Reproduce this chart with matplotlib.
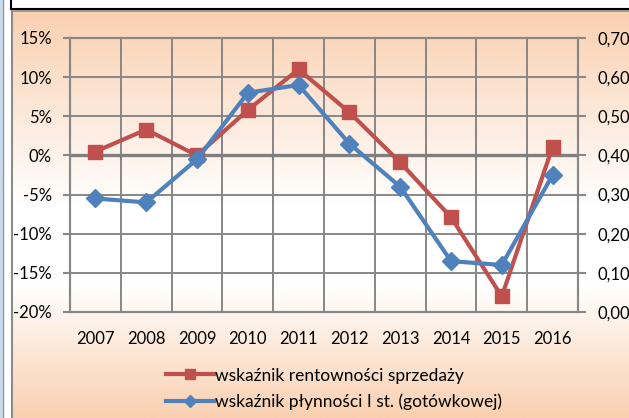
import numpy as np
import matplotlib
matplotlib.use("Agg")
import matplotlib.pyplot as plt
from matplotlib.ticker import FixedLocator
from matplotlib.lines import Line2D

plt.rcParams['font.family'] = ['Lato', 'DejaVu Sans']

years = ['2007', '2008', '2009', '2010', '2011', '2012', '2013', '2014', '2015', '2016']
rentownosc = [0.5, 3.3, 0.0, 5.8, 11.0, 5.5, -0.9, -7.9, -18.0, 1.1]      # %
plynnosc = [0.29, 0.28, 0.39, 0.56, 0.58, 0.43, 0.32, 0.13, 0.12, 0.35]

left_ticks = [-20, -15, -10, -5, 0, 5, 10, 15]
right_ticks = [0.0, 0.1, 0.2, 0.3, 0.4, 0.5, 0.6, 0.7]

RED = '#C0504D'
BLUE = '#4F81BD'
GRID = '#878787'
FS = 12

W, H = 629, 418
fig = plt.figure(figsize=(W / 100, H / 100), dpi=100)

# background: page strip on the left, frame and peach/white gradient
bg = fig.add_axes([0, 0, 1, 1])
bg.set_xlim(0, W)
bg.set_ylim(H, 0)
bg.axis('off')
peach = np.array([250, 208, 176]) / 255
white = np.array([1.0, 1.0, 1.0])
ys = np.linspace(11, H, 400)
def mix(y):
    if y < 205:
        t = (y - 11) / (205 - 11)
        return peach * (1 - t) + white * t
    if y < 285:
        return white
    t = (y - 285) / (H - 285)
    return white * (1 - t) + peach * t
grad = np.array([mix(y) for y in ys])[:, None, :]
bg.imshow(grad, extent=[12, W, H, 11], aspect='auto', zorder=0)
bg.add_patch(plt.Rectangle((0, 0), 3, H, color='#C9D8EA', zorder=1))
bg.plot([3, 3], [0, H], color='#8C8C8C', lw=0.8, zorder=2)
bg.plot([11.5, 11.5], [10, H], color='#8C8C8C', lw=1.5, zorder=2)
bg.plot([11.5, W], [10.5, 10.5], color='#8C8C8C', lw=1.2, zorder=2)
bg.plot([10.5, 10.5], [0, 9], color='black', lw=1.5, zorder=3)
bg.plot([10.5, W], [8.5, 8.5], color='black', lw=1.5, zorder=3)

ax = fig.add_axes([70 / W, 1 - 312 / H, 508 / W, 274 / H])
ax.patch.set_alpha(0)
ax.set_axisbelow(True)
x = np.arange(len(years))
ax.set_xlim(-0.5, len(years) - 0.5)
ax.set_ylim(-20, 15)
ax.set_yticks(left_ticks)
ax.set_yticklabels([f'{v}%' for v in left_ticks])
ax.set_xticks(x)
ax.set_xticklabels(years)
ax.xaxis.set_minor_locator(FixedLocator(np.arange(-0.5, len(years), 1.0)))
ax.tick_params(axis='x', which='both', length=0, pad=14, labelsize=FS)
ax.tick_params(axis='y', length=5, width=1.5, color=GRID, pad=8, labelsize=FS)
ax.grid(axis='y', which='major', color=GRID, lw=1.4)
ax.grid(axis='x', which='minor', color=GRID, lw=1.4)
for s in ax.spines.values():
    s.set_color(GRID)
    s.set_linewidth(1.5)

# horizontal axis crossing at 0% with small ticks between categories
ax.axhline(0, color='#7F7F7F', lw=2.4, zorder=1.5)
ax.vlines(np.arange(-0.5, len(years), 1.0), -0.6, 0, color='#7F7F7F', lw=1.5, zorder=1.5)

ax.plot(x, rentownosc, color=RED, lw=3, marker='s', ms=10, zorder=3)

ax2 = ax.twinx()
ax2.patch.set_alpha(0)
ax2.set_ylim(0, 0.7)
ax2.set_yticks(right_ticks)
ax2.set_yticklabels([f'{v:.2f}'.replace('.', ',') for v in right_ticks])
ax2.tick_params(axis='y', length=6, width=1.5, color=GRID, pad=8, labelsize=FS)
for s in ax2.spines.values():
    s.set_color(GRID)
    s.set_linewidth(1.5)
ax2.plot(x, plynnosc, color=BLUE, lw=3, marker='D', ms=9, zorder=3)

handles = [
    Line2D([], [], color=RED, lw=3, marker='s', ms=7.5),
    Line2D([], [], color=BLUE, lw=3, marker='D', ms=6.5),
]
labels = ['wskaźnik rentowności sprzedaży', 'wskaźnik płynności I st. (gotówkowej)']
fig.legend(handles, labels, loc='center', bbox_to_anchor=(334 / W, 1 - 389 / H),
           frameon=False, fontsize=12.5, handlelength=2.8, handletextpad=0.05,
           labelspacing=0.6)

fig.savefig('out.png', dpi=100)
